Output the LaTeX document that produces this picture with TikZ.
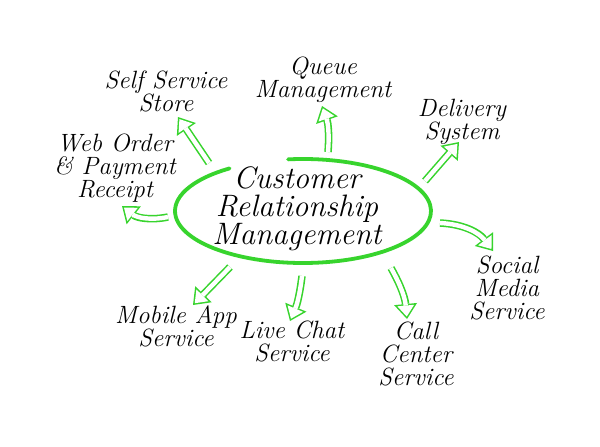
\documentclass[tikz,border=0pt]{standalone}
\usetikzlibrary{arrows.meta,calc}
\definecolor{crmgreen}{RGB}{55,212,45}
\tikzset{
  lbl/.style={align=center, inner sep=0pt, font=\fontsize{25}{23}\selectfont\itshape},
  mainlbl/.style={align=center, inner sep=0pt, font=\fontsize{31}{28}\selectfont\itshape},
  outerarr/.style={draw=crmgreen, line width=7.5pt, -{Triangle[length=15pt,width=23pt,line width=0pt]}},
  innerarr/.style={draw=white, line width=4.4pt, shorten >=2.5pt, -{Triangle[length=11pt,width=16.8pt,line width=0pt]}},
  ring/.style={draw=crmgreen, line width=3.8pt, line cap=round}
}
\newcommand{\harrow}[1]{\draw[outerarr] #1; \draw[innerarr] #1;}
\begin{document}
\begin{tikzpicture}[x=1pt,y=-1pt]
\useasboundingbox[fill=white] (0,0) rectangle (600,447);
% central ellipse
\coordinate (c) at (303,211);
\draw[ring] ($(c)+(263.3:128 and 52)$) arc[start angle=263.3, end angle=595, x radius=128, y radius=52];
\node[mainlbl] (crm) at (297,209) {Customer\\Relationship\\Management};
% labels
\node[lbl] (self) at (166,91) {Self Service\\Store};
\node[lbl] (queue) at (323,80) {Queue\\Management};
\node[lbl] (deliv) at (462,122) {Delivery\\System};
\node[lbl] (web) at (115,168) {Web Order\\\& Payment\\Receipt};
\node[lbl] (social) at (507,288) {Social\\Media\\Service};
\node[lbl] (call) at (416,354) {Call\\Center\\Service};
\node[lbl] (chat) at (292,341) {Live Chat\\Service};
\node[lbl] (mobile) at (176,326) {Mobile App\\Service};
% arrow ends
\coordinate (s1) at (209,163); \coordinate (t1) at (178,117);
\coordinate (s2) at (168,217); \coordinate (t2) at (122,206);
\coordinate (s3) at (328,152); \coordinate (t3) at (322,106);
\coordinate (s4) at (425,181); \coordinate (t4) at (459,142);
\coordinate (s5) at (440,223); \coordinate (t5) at (493,251);
\coordinate (s6) at (391,268); \coordinate (t6) at (407,319);
\coordinate (s7) at (302,276); \coordinate (t7) at (290,321);
\coordinate (s8) at (230,267); \coordinate (t8) at (193,305);
\harrow{(s1) -- (t1)}
\harrow{(s2) to[bend left=25] (t2)}
\harrow{(s3) to[bend right=12] (t3)}
\harrow{(s4) -- (t4)}
\harrow{(s5) to[bend left=25] (t5)}
\harrow{(s6) to[bend left=12] (t6)}
\harrow{(s7) to[bend left=8] (t7)}
\harrow{(s8) -- (t8)}
\end{tikzpicture}
\end{document}
